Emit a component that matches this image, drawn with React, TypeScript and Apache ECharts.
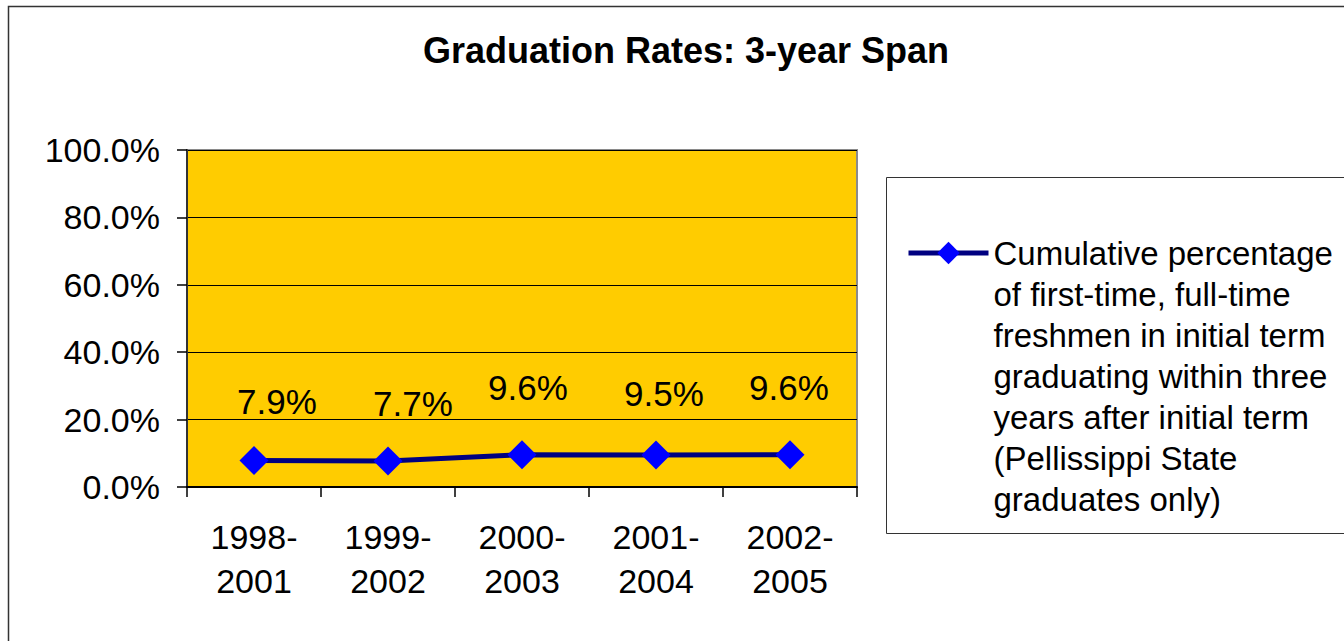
import React, { useEffect, useRef } from "react";
import * as echarts from "echarts";

const categories = ["1998-\n2001", "1999-\n2002", "2000-\n2003", "2001-\n2004", "2002-\n2005"];
const rates = [7.9, 7.7, 9.6, 9.5, 9.6];
const labelOffsets = [[23, -59], [25, -58], [6, -67], [8, -61], [-1, -67]];
const seriesName =
  "Cumulative percentage\nof first-time, full-time\nfreshmen in initial term\ngraduating within three\nyears after initial term\n(Pellissippi State\ngraduates only)";
const titleText = "Graduation Rates: 3-year Span";

const FONT = "'Liberation Sans', Arial, sans-serif";

export default function App() {
  const ref = useRef<HTMLDivElement>(null);
  useEffect(() => {
    if (!ref.current) return;
    const chart = echarts.init(ref.current, undefined, { renderer: "svg" });
    const legendLines = seriesName.split("\n").length;
    const legendLH = 41;
    const totalLines = legendLines * 2 - 1;
    chart.setOption({
      animation: false,
      backgroundColor: "#ffffff",
      textStyle: { fontFamily: FONT },
      title: {
        text: titleText,
        left: 686,
        top: 32,
        padding: 0,
        textAlign: "center",
        textStyle: { fontFamily: FONT, fontSize: 36, fontWeight: "bold", color: "#000" },
      },
      graphic: [
        {
          type: "rect",
          shape: { x: 8.5, y: 6.5, width: 1400, height: 700 },
          style: { fill: "none", stroke: "#333", lineWidth: 1.5 },
          silent: true,
          z: -1,
        },
        {
          type: "rect",
          shape: { x: 886.5, y: 177.5, width: 500, height: 356 },
          style: { fill: "#fff", stroke: "#333", lineWidth: 1 },
          silent: true,
          z: -1,
        },
      ],
      legend: {
        left: 906,
        top: 253 - (totalLines * legendLH) / 2,
        padding: 0,
        orient: "vertical",
        itemWidth: 80,
        itemHeight: 28,
        data: [seriesName],
        formatter: (name: string) => "\n".repeat(legendLines - 1) + name,
        lineStyle: { width: 5 },
        textStyle: {
          fontFamily: FONT,
          fontSize: 33,
          lineHeight: legendLH,
          color: "#000",
        },
      },
      grid: {
        left: 187,
        top: 150,
        width: 670,
        height: 337,
        show: true,
        backgroundColor: "#FFCC00",
        borderColor: "#8a8a8a",
        borderWidth: 2,
      },
      xAxis: {
        type: "category",
        data: categories,
        boundaryGap: true,
        axisLine: { lineStyle: { color: "#000", width: 2 } },
        axisTick: { show: true, length: 10, lineStyle: { color: "#000", width: 1.5 } },
        axisLabel: {
          fontFamily: FONT,
          fontSize: 34,
          lineHeight: 44,
          color: "#000",
          margin: 28,
          interval: 0,
        },
      },
      yAxis: {
        type: "value",
        min: 0,
        max: 100,
        interval: 20,
        axisLine: { show: true, lineStyle: { color: "#333", width: 2 } },
        axisTick: { show: true, length: 10, lineStyle: { color: "#000", width: 1.5 } },
        splitLine: { show: true, lineStyle: { color: "#000", width: 1 } },
        axisLabel: {
          fontFamily: FONT,
          fontSize: 34,
          color: "#000",
          margin: 27,
          formatter: (v: number) => v.toFixed(1) + "%",
        },
      },
      series: [
        {
          name: seriesName,
          type: "line",
          data: rates.map((v, i) => ({
            value: v,
            label: { offset: labelOffsets[i] },
          })),
          lineStyle: { color: "#000080", width: 5 },
          itemStyle: { color: "#0000FF" },
          symbol: "diamond",
          symbolSize: 29,
          label: {
            show: true,
            position: "inside",
            fontFamily: FONT,
            fontSize: 35,
            color: "#000",
            formatter: (p: any) => p.value.toFixed(1) + "%",
          },
        },
      ],
    });
    return () => chart.dispose();
  }, []);
  return (
    <div
      ref={ref}
      style={{ position: "fixed", left: 0, top: 0, width: 1344, height: 641 }}
    />
  );
}
